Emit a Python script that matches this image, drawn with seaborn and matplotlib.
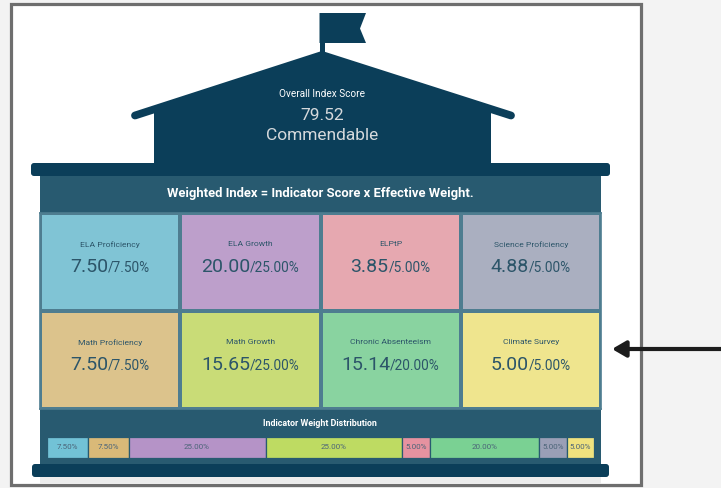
import numpy as np
import pandas as pd
import seaborn as sns
import matplotlib
matplotlib.use("Agg")
import matplotlib.pyplot as plt
from matplotlib.colors import ListedColormap
from matplotlib.patches import Rectangle, Polygon, FancyBboxPatch
from matplotlib.transforms import ScaledTranslation

# ---------------- data ----------------
overall_title = "Overall Index Score"
overall_score = 79.52
overall_rating = "Commendable"
header_text = "Weighted Index = Indicator Score x Effective Weight."
dist_title = "Indicator Weight Distribution"

indicators = ["ELA Proficiency", "ELA Growth", "ELPtP", "Science Proficiency",
              "Math Proficiency", "Math Growth", "Chronic Absenteeism", "Climate Survey"]
scores = [7.50, 20.00, 3.85, 4.88, 7.50, 15.65, 15.14, 5.00]
weights = [7.50, 25.00, 5.00, 5.00, 7.50, 25.00, 20.00, 5.00]
tile_colors = ["#80c4d5", "#bd9fcb", "#e6a8b0", "#aaafc0",
               "#dcc38c", "#c9dc77", "#89d3a0", "#efe58e"]

dist_order = ["ELA Proficiency", "Math Proficiency", "ELA Growth", "Math Growth",
              "ELPtP", "Chronic Absenteeism", "Science Proficiency", "Climate Survey"]
dist_colors = ["#72c2d6", "#d9b978", "#b593c7", "#bedb62",
               "#e692a0", "#7ad193", "#9a9fb6", "#efe27e"]

# ---------------- style ----------------
sns.set_theme(style="white")
plt.rcParams["font.family"] = ["Roboto", "DejaVu Sans"]

NAVY = "#0b3e59"
BODY = "#285a70"
TILE_EDGE = "#4e7d90"
TXT = "#2c5569"

W, H = 721, 488
fig = plt.figure(figsize=(W / 100, H / 100), dpi=100, facecolor="#f3f3f3")
bg = fig.add_axes([0, 0, 1, 1])
bg.set_xlim(0, W)
bg.set_ylim(H, 0)
bg.axis("off")
bg.set_facecolor("none")

# frame
bg.add_patch(Rectangle((11, 4), 630, 481, facecolor="white", edgecolor="#6e6e6e", lw=2.3, zorder=1))
bg.add_patch(Rectangle((40, 477), 561, 6.5, facecolor="#ececec", edgecolor="none", zorder=1.5))

# flag
bg.add_patch(Rectangle((319.5, 13), 5.5, 44, facecolor=NAVY, edgecolor="none", zorder=2))
bg.add_patch(Polygon([(319.5, 13), (366, 13), (360, 28.5), (366, 43), (319.5, 43)],
                     closed=True, facecolor=NAVY, edgecolor="none", zorder=2))
# roof
bg.add_patch(Polygon([(154, 164), (154, 108), (322, 54), (491, 108), (491, 164)],
                     closed=True, facecolor=NAVY, edgecolor="none", zorder=2))
bg.plot([135, 322, 511], [115.5, 55, 115.5], color=NAVY, lw=5.6,
        solid_capstyle="round", solid_joinstyle="miter", zorder=2)

bg.text(322, 94, overall_title, ha="center", va="center", color="white",
        fontsize=7.2, zorder=3)
bg.text(322, 115, f"{overall_score:.2f}", ha="center", va="center", color="#d5d9dc",
        fontsize=12.5, zorder=3)
bg.text(322, 136, overall_rating, ha="center", va="center", color="#d5d9dc",
        fontsize=12.5, zorder=3)

# body, cornice, base
bg.add_patch(Rectangle((40, 175), 561, 292, facecolor=BODY, edgecolor="none", zorder=2))
bg.add_patch(FancyBboxPatch((31, 163), 579, 13, boxstyle="round,pad=0,rounding_size=3",
                            facecolor=NAVY, edgecolor="none", zorder=3))
bg.add_patch(FancyBboxPatch((32, 464), 577, 13, boxstyle="round,pad=0,rounding_size=3",
                            facecolor=NAVY, edgecolor="none", zorder=3))
bg.text(320, 193, header_text, ha="center", va="center", color="white",
        fontsize=9.4, fontweight="bold", zorder=3)
bg.text(320, 423, dist_title, ha="center", va="center", color="white",
        fontsize=6.4, fontweight="bold", zorder=3)

# arrow
bg.annotate("", xy=(612, 349), xytext=(722, 349),
            arrowprops=dict(arrowstyle="-|>,head_length=0.55,head_width=0.32", lw=3,
                            color="#1c1c1c", mutation_scale=15, shrinkA=0, shrinkB=0),
            zorder=4)

# ---------------- tiles via seaborn heatmap ----------------
tile_ax = fig.add_axes([40 / W, (H - 409) / H, 561 / W, 196 / H])
grid = pd.DataFrame(np.arange(8).reshape(2, 4))
sns.heatmap(grid, ax=tile_ax, cmap=ListedColormap(tile_colors), vmin=-0.5, vmax=7.5,
            cbar=False, linewidths=1.6, linecolor=TILE_EDGE, xticklabels=False,
            yticklabels=False)
for sp in tile_ax.spines.values():
    sp.set_visible(True)
    sp.set_color(TILE_EDGE)
    sp.set_linewidth(1.2)

fig.canvas.draw()
renderer = fig.canvas.get_renderer()
for k, name in enumerate(indicators):
    r, c = divmod(k, 4)
    cx, cy = c + 0.5, r + 0.5
    tile_ax.text(cx, cy - 0.18, name, ha="center", va="center", color=TXT,
                 fontsize=6.1)
    big = tile_ax.text(cx, cy + 0.10, f"{scores[k]:.2f}", ha="left", va="baseline",
                       color=TXT, fontsize=14)
    small = tile_ax.text(cx, cy + 0.10, f"/{weights[k]:.2f}%", ha="left", va="baseline",
                         color=TXT, fontsize=9.8)
    w1 = big.get_window_extent(renderer).width
    w2 = small.get_window_extent(renderer).width
    tot = w1 + w2
    big.set_transform(tile_ax.transData + ScaledTranslation(-tot / 2 / fig.dpi, 0, fig.dpi_scale_trans))
    small.set_transform(tile_ax.transData + ScaledTranslation((-tot / 2 + w1) / fig.dpi, 0, fig.dpi_scale_trans))

# ---------------- weight distribution stacked bar ----------------
bar_ax = fig.add_axes([46.5 / W, (H - 458) / H, 547.5 / W, 21.5 / H])
dist_w = [weights[indicators.index(n)] for n in dist_order]
lefts = np.concatenate([[0], np.cumsum(dist_w)[:-1]])
bar_ax.barh([0] * len(dist_w), dist_w, left=lefts, height=1.0, color=dist_colors,
            edgecolor=BODY, linewidth=0.9)
for l, w in zip(lefts, dist_w):
    bar_ax.text(l + w / 2, 0, f"{w:.2f}%", ha="center", va="center", color="#4b6478", fontsize=5.8)
bar_ax.set_xlim(0, sum(dist_w))
bar_ax.set_ylim(-0.5, 0.5)
bar_ax.axis("off")

fig.savefig("out.png", dpi=100, facecolor=fig.get_facecolor())
